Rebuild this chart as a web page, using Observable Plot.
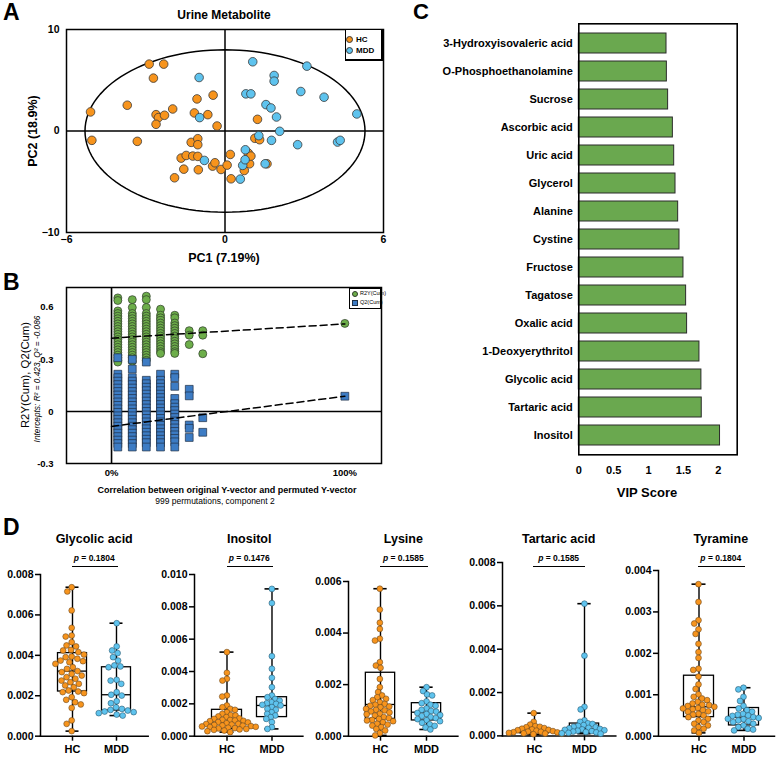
<!DOCTYPE html>
<html><head><meta charset="utf-8">
<script src="https://cdn.jsdelivr.net/npm/d3@7"></script>
<script src="https://cdn.jsdelivr.net/npm/@observablehq/plot@0.6"></script>
<style>
body{margin:0;background:#fff;}
#root{position:relative;width:780px;height:758px;font-family:"Liberation Sans",Arial,sans-serif;color:#000;overflow:hidden;background:#fff}
.lbl{position:absolute;white-space:nowrap;line-height:1}
</style></head><body><div id="root"></div>
<script>
// ---------------- DATA ----------------
// Panel A: PCA scores
const hcPC1 = [-5.09,-5.04,-3.70,-3.32,-2.87,-2.71,-2.61,-2.52,-2.61,-2.29,-2.32,-1.98,-1.91,-1.66,-1.56,-1.47,-1.28,-1.22,-1.16,-1.06,-1.03,-1.03,-1.03,-1.01,-0.65,-0.45,-0.47,-0.38,-0.30,-0.15,0.08,0.20,0.23,0.73,0.88,0.93,0.98,1.13,1.23,1.31,1.59];
const hcPC2 = [1.88,-0.92,2.54,-1.02,6.59,5.21,1.61,1.32,0.66,1.55,6.59,2.17,-4.61,-2.67,-3.76,-2.41,-1.12,-2.47,1.78,3.16,-0.76,-1.35,-2.50,-3.82,1.61,3.53,-3.46,-3.13,0.49,-3.79,-3.36,-2.31,-4.71,-3.89,-2.17,-3.23,-2.47,-0.72,1.15,-0.86,-3.23];
const mddPC1 = [-0.98,-0.96,-0.78,0.58,0.67,0.76,0.77,0.79,0.98,1.05,1.28,1.52,1.55,1.74,1.76,1.86,1.86,1.95,2.07,2.75,2.87,3.10,3.75,4.26,4.36,4.99];
const mddPC2 = [5.27,1.32,-2.90,-4.74,-3.39,-2.83,-1.85,3.66,3.66,6.82,-0.46,-3.23,2.60,2.27,-0.92,5.47,4.91,1.38,-0.03,-1.35,3.89,6.39,3.33,-1.09,-0.92,1.68];
const ellipseRadii = [5.3, 8.0]; // Hotelling T2 ellipse half-axes (PC1, PC2)

// Panel B: permutation test (x = correlation, columns of permuted models)
const permX = [0.027, 0.089, 0.149, 0.21, 0.271, 0.333, 0.391, 1.0];
const r2yCols = [
  [0.655,0.64,0.58,0.565,0.55,0.535,0.52,0.505,0.49,0.475,0.46,0.445,0.43,0.415,0.40,0.385,0.37,0.355,0.34,0.325,0.31,0.295,0.285],
  [0.645,0.60,0.565,0.55,0.535,0.52,0.505,0.49,0.475,0.46,0.445,0.43,0.415,0.40,0.385,0.37,0.355,0.34,0.325,0.31,0.29],
  [0.665,0.645,0.60,0.565,0.55,0.535,0.52,0.505,0.49,0.475,0.46,0.445,0.43,0.415,0.40,0.385,0.37,0.355,0.34,0.325,0.31,0.295],
  [0.59,0.555,0.54,0.525,0.51,0.495,0.48,0.465,0.45,0.435,0.42,0.405,0.39,0.375,0.36,0.345,0.335],
  [0.555,0.54,0.51,0.495,0.48,0.465,0.45,0.435,0.42,0.405,0.39,0.375,0.36,0.345,0.335],
  [0.466,0.44,0.386],
  [0.466,0.44,0.333],
  [0.508]
];
const q2Cols = [
  [0.31,0.215,0.195,0.175,0.155,0.135,0.115,0.095,0.075,0.055,0.035,0.015,-0.005,-0.025,-0.045,-0.065,-0.085,-0.105,-0.125,-0.145,-0.165,-0.185,-0.205],
  [0.30,0.245,0.195,0.175,0.155,0.135,0.115,0.095,0.075,0.055,0.035,0.015,-0.005,-0.025,-0.045,-0.065,-0.085,-0.105,-0.125,-0.145,-0.165,-0.185,-0.205],
  [0.285,0.18,0.16,0.14,0.12,0.10,0.08,0.06,0.04,0.02,0.0,-0.02,-0.04,-0.06,-0.08,-0.10,-0.12,-0.14,-0.16,-0.18,-0.205],
  [0.215,0.18,0.16,0.14,0.12,0.10,0.08,0.06,0.04,0.02,0.0,-0.02,-0.04,-0.06,-0.08,-0.10,-0.12,-0.14,-0.16,-0.18,-0.205],
  [0.215,0.195,0.145,0.075,0.045,0.025,0.005,-0.015,-0.035,-0.055,-0.075,-0.095,-0.115,-0.135,-0.155,-0.175,-0.205],
  [0.128,0.09,-0.078,-0.097,-0.15],
  [-0.036,-0.12],
  [0.088]
];
const r2yIntercept = 0.423, r2yOriginal = 0.505;
const q2Intercept = -0.086, q2Original = 0.088;

// Panel C: VIP scores
const vipNames = ["3-Hydroxyisovaleric acid","O-Phosphoethanolamine","Sucrose","Ascorbic acid","Uric acid","Glycerol","Alanine","Cystine","Fructose","Tagatose","Oxalic acid","1-Deoxyerythritol","Glycolic acid","Tartaric acid","Inositol"];
const vipScores = [1.257,1.262,1.28,1.348,1.367,1.386,1.424,1.443,1.50,1.538,1.552,1.729,1.757,1.762,2.024];

// Panel D: individual metabolite levels
const glycolicHC = [0.00737,0.00716,0.00622,0.00536,0.00498,0.00493,0.00465,0.00449,0.00444,0.00427,0.00424,0.00416,0.00404,0.00394,0.00391,0.00383,0.00374,0.00371,0.00366,0.00358,0.00341,0.00333,0.00322,0.00317,0.00308,0.00300,0.00292,0.00284,0.00275,0.00267,0.00259,0.00251,0.00242,0.00226,0.00221,0.00218,0.00213,0.00193,0.00180,0.00168,0.00157,0.00140,0.00078,0.00061,0.00025];
const glycolicMDD = [0.00559,0.00444,0.00424,0.00411,0.00391,0.00374,0.00350,0.00345,0.00341,0.00279,0.00275,0.00259,0.00218,0.00205,0.00201,0.00173,0.00163,0.00143,0.00135,0.00130,0.00127,0.00122,0.00119,0.00114,0.00107,0.00102];
const inositolHC = [0.00520,0.00392,0.00355,0.00344,0.00252,0.00245,0.00190,0.00179,0.00169,0.00163,0.00148,0.00138,0.00130,0.00128,0.00122,0.00118,0.00110,0.00107,0.00101,0.00100,0.00097,0.00095,0.00093,0.00087,0.00085,0.00080,0.00076,0.00075,0.00072,0.00070,0.00066,0.00065,0.00062,0.00060,0.00058,0.00056,0.00052,0.00050,0.00048,0.00045,0.00042,0.00039,0.00035,0.00031,0.00025];
const inositolMDD = [0.00911,0.00823,0.00495,0.00417,0.00361,0.00303,0.00252,0.00241,0.00230,0.00220,0.00210,0.00204,0.00200,0.00194,0.00190,0.00180,0.00169,0.00163,0.00148,0.00138,0.00128,0.00118,0.00107,0.00087,0.00056,0.00045];
const lysineHC = [0.00572,0.00491,0.00440,0.00416,0.00378,0.00371,0.00287,0.00274,0.00265,0.00222,0.00190,0.00171,0.00158,0.00151,0.00145,0.00140,0.00132,0.00125,0.00122,0.00118,0.00115,0.00112,0.00106,0.00102,0.00100,0.00096,0.00092,0.00087,0.00085,0.00080,0.00074,0.00070,0.00067,0.00063,0.00061,0.00058,0.00054,0.00048,0.00045,0.00041,0.00035,0.00028,0.00022,0.00012,0.00003];
const lysineMDD = [0.00190,0.00175,0.00162,0.00158,0.00135,0.00128,0.00122,0.00118,0.00108,0.00102,0.00098,0.00095,0.00090,0.00086,0.00082,0.00078,0.00074,0.00070,0.00066,0.00062,0.00058,0.00052,0.00046,0.00040,0.00034,0.00026];
const tartaricHC = [0.00105,0.00065,0.00052,0.00045,0.00042,0.00040,0.00036,0.00033,0.00030,0.00028,0.00026,0.00024,0.00022,0.00020,0.00019,0.00017,0.00016,0.00014,0.00012,0.00011,0.00010,0.00008];
const tartaricMDD = [0.00610,0.00370,0.00134,0.00122,0.00072,0.00065,0.00058,0.00055,0.00050,0.00046,0.00042,0.00040,0.00037,0.00035,0.00032,0.00030,0.00028,0.00026,0.00024,0.00022,0.00020,0.00018,0.00016,0.00014,0.00012,0.00010];
const tyramineHC = [0.00367,0.00324,0.00280,0.00272,0.00258,0.00247,0.00223,0.00203,0.00189,0.00163,0.00160,0.00144,0.00125,0.00114,0.00101,0.00095,0.00091,0.00087,0.00083,0.00079,0.00076,0.00075,0.00073,0.00071,0.00068,0.00067,0.00065,0.00063,0.00060,0.00059,0.00054,0.00052,0.00050,0.00046,0.00042,0.00038,0.00034,0.00030,0.00026,0.00022,0.00018,0.00014,0.00008];
const tyramineMDD = [0.00117,0.00113,0.00095,0.00085,0.00073,0.00067,0.00063,0.00059,0.00054,0.00052,0.00050,0.00049,0.00046,0.00044,0.00042,0.00041,0.00038,0.00036,0.00034,0.00030,0.00026,0.00022,0.00018,0.00016,0.00014];
// box summaries [min, Q1, median, Q3, max]
const glycolicBoxHC = [0.00025,0.00221,0.00322,0.00411,0.00737];
const glycolicBoxMDD = [0.00102,0.00127,0.00205,0.00341,0.00559];
const inositolBoxHC = [0.00025,0.00045,0.00085,0.00163,0.00520];
const inositolBoxMDD = [0.00045,0.00118,0.00190,0.00241,0.00911];
const lysineBoxHC = [0.00003,0.00067,0.00123,0.00246,0.00572];
const lysineBoxMDD = [0.00026,0.00061,0.00093,0.00128,0.00190];
const tartaricBoxHC = [0.00006,0.00012,0.00020,0.00035,0.00105];
const tartaricBoxMDD = [0.00010,0.00014,0.00034,0.00057,0.00610];
const tyramineBoxHC = [0.00008,0.00046,0.00071,0.00146,0.00367];
const tyramineBoxMDD = [0.00014,0.00026,0.00046,0.00068,0.00117];
const dMetabolites = ["Glycolic acid","Inositol","Lysine","Tartaric acid","Tyramine"];
const dPValues = ["0.1804","0.1476","0.1585","0.1585","0.1804"];
const dYMax = [0.008,0.010,0.006,0.008,0.004];
const dYStep = [0.002,0.002,0.002,0.002,0.001];
const groups = ["HC","MDD"];

// ---------------- STYLE / LAYOUT ----------------
const FONT = "'Liberation Sans', Arial, sans-serif";
const ORANGE = "#F7941D", SKY = "#5EC3EE", DOTGREEN = "#6DAE4A", SQBLUE = "#3D7CC4", BARGREEN = "#6AA84F";
const root = document.getElementById("root");
function place(svg, left, top) { svg.style.position = "absolute"; svg.style.left = left + "px"; svg.style.top = top + "px"; root.appendChild(svg); }
function label(str, x, y, o = {}) {
  const d = document.createElement("div");
  d.className = "lbl";
  if (o.html) d.innerHTML = str; else d.textContent = str;
  d.style.fontSize = (o.size || 12) + "px";
  d.style.fontWeight = o.weight || "bold";
  d.style.fontStyle = o.style || "normal";
  d.style.left = x + "px"; d.style.top = y + "px";
  const tx = o.anchor === "start" ? "0" : o.anchor === "end" ? "-100%" : "-50%";
  d.style.transform = `translate(${tx},-50%)` + (o.rotate ? ` rotate(${o.rotate}deg)` : "");
  root.appendChild(d);
  return d;
}
function box(left, top, w, h, css = "") {
  const d = document.createElement("div");
  d.style.cssText = `position:absolute;left:${left}px;top:${top}px;width:${w}px;height:${h}px;${css}`;
  root.appendChild(d); return d;
}

// ---------------- PANEL A ----------------
const scoreRows = [
  ...hcPC1.map((v, i) => ({group: "HC", pc1: v, pc2: hcPC2[i]})),
  ...mddPC1.map((v, i) => ({group: "MDD", pc1: v, pc2: mddPC2[i]}))
];
const ellipse = d3.range(0, 361, 3).map(a => ({pc1: ellipseRadii[0] * Math.cos(a * Math.PI / 180), pc2: ellipseRadii[1] * Math.sin(a * Math.PI / 180)}));
const plotA = Plot.plot({
  width: 400, height: 270, marginLeft: 66, marginRight: 17, marginTop: 29, marginBottom: 38,
  style: {fontFamily: FONT, fontSize: "10.5px", fontWeight: "bold", background: "transparent", overflow: "visible"},
  x: {domain: [-6, 6], ticks: [-6, 0, 6], tickSize: 0, tickPadding: 3, label: null},
  y: {domain: [-10, 10], ticks: [-10, 0, 10], tickSize: 0, tickPadding: 7, label: null},
  color: {domain: groups, range: [ORANGE, SKY]},
  marks: [
    Plot.ruleX([0], {stroke: "#000", strokeWidth: 1.5}),
    Plot.ruleY([0], {stroke: "#000", strokeWidth: 1.5}),
    Plot.line(ellipse, {x: "pc1", y: "pc2", stroke: "#000", strokeWidth: 1.5}),
    Plot.dot(scoreRows, {x: "pc1", y: "pc2", fill: "group", r: 4.3, stroke: "#3a3a3a", strokeWidth: 0.8}),
    Plot.frame({stroke: "#000", strokeWidth: 1.5})
  ]
});
place(plotA, 0, 0);
label("A", 3, 12, {size: 23, anchor: "start"});
label("Urine Metabolite", 224, 15, {size: 12});
label("PC1 (7.19%)", 224, 258, {size: 12.5});
label("PC2 (18.9%)", 33, 131, {size: 12.5, rotate: -90});
box(345, 29, 38, 32, "border:1px solid #000;border-right-width:2px;border-bottom-width:2px;box-sizing:border-box;background:#fff");
box(346, 36, 7, 7, `border-radius:50%;background:${ORANGE};border:0.8px solid #3a3a3a;box-sizing:border-box`);
box(346, 47, 7, 7, `border-radius:50%;background:${SKY};border:0.8px solid #3a3a3a;box-sizing:border-box`);
label("HC", 356, 39.5, {size: 8, anchor: "start"});
label("MDD", 356, 50.5, {size: 8, anchor: "start"});

// ---------------- PANEL B ----------------
const r2yRows = permX.flatMap((x, i) => r2yCols[i].map(v => ({corr: x, value: v})));
const q2Rows = permX.flatMap((x, i) => q2Cols[i].map(v => ({corr: x, value: v})));
const r2yFit = [{corr: 0, value: r2yIntercept}, {corr: 1, value: r2yOriginal}];
const q2Fit = [{corr: 0, value: q2Intercept}, {corr: 1, value: q2Original}];
const plotB = Plot.plot({
  width: 400, height: 240, marginLeft: 66, marginRight: 19, marginTop: 17, marginBottom: 47,
  style: {fontFamily: FONT, fontSize: "9.5px", fontWeight: "bold", background: "transparent", overflow: "visible"},
  x: {domain: [-0.193, 1.157], ticks: [0, 1], tickFormat: d => Math.round(d * 100) + "%", tickSize: 0, tickPadding: 6, label: null},
  y: {domain: [-0.3, 0.715], ticks: [-0.3, 0, 0.3, 0.6], tickFormat: d => d === 0 ? "0" : String(d), tickSize: 0, tickPadding: 13, label: null},
  marks: [
    Plot.ruleX([0], {stroke: "#000", strokeWidth: 1.6}),
    Plot.ruleY([0], {stroke: "#000", strokeWidth: 1.6}),
    Plot.dot(r2yRows, {x: "corr", y: "value", r: 4, fill: DOTGREEN, stroke: "#2e3b2a", strokeWidth: 0.7}),
    Plot.dot(q2Rows, {x: "corr", y: "value", r: 4.4, symbol: "square", fill: SQBLUE, stroke: "#1f2f45", strokeWidth: 0.7}),
    Plot.line(r2yFit, {x: "corr", y: "value", stroke: "#000", strokeWidth: 1.5, strokeDasharray: "7,4"}),
    Plot.line(q2Fit, {x: "corr", y: "value", stroke: "#000", strokeWidth: 1.5, strokeDasharray: "7,4"}),
    Plot.frame({stroke: "#000", strokeWidth: 1.5})
  ]
});
place(plotB, 0, 270);
label("B", 3, 282, {size: 23, anchor: "start"});
label("R2Y(Cum), Q2(Cum)", 26, 375, {size: 11.3, weight: "normal", rotate: -90});
label("<i>Intercepts: R² = 0.423, Q² = -0.086</i>", 37, 378.5, {size: 8.3, weight: "normal", rotate: -90, html: true});
label("Correlation between original Y-vector and permuted Y-vector", 227, 490, {size: 9});
label("999 permutations, component 2", 215, 500.5, {size: 8.5, weight: "normal"});
box(349, 288, 32, 21, "border:1px solid #000;box-sizing:border-box;background:#fff");
box(352, 290.5, 6, 6, `border-radius:50%;background:${DOTGREEN};border:0.6px solid #2e3b2a;box-sizing:border-box`);
box(352, 300, 6, 6, `background:${SQBLUE};border:0.6px solid #1f2f45;box-sizing:border-box`);
label("R2Y(Cum)", 360, 294, {size: 5.5, weight: "normal", anchor: "start"});
label("Q2(Cum)", 360, 303, {size: 5.5, weight: "normal", anchor: "start"});

// ---------------- PANEL C ----------------
const vipRows = vipNames.map((n, i) => ({name: n, vip: vipScores[i]}));
const plotC = Plot.plot({
  width: 380, height: 510, marginLeft: 178.3, marginRight: 43.3, marginTop: 23.3, marginBottom: 55.7,
  style: {fontFamily: FONT, fontSize: "11px", fontWeight: "bold", background: "transparent", overflow: "visible"},
  x: {domain: [0, 2.27], ticks: [0, 0.5, 1, 1.5, 2], tickFormat: d => String(d), tickSize: 0, tickPadding: 11, label: null},
  y: {domain: vipNames, paddingInner: 0.3, paddingOuter: 0.15, tickSize: 0, tickPadding: 6, label: null},
  marks: [
    Plot.barX(vipRows, {x: "vip", y: "name", fill: BARGREEN, stroke: "#2b2b2b", strokeWidth: 1}),
    Plot.frame({stroke: "#000", strokeWidth: 1.6})
  ]
});
place(plotC, 400, 0);
label("C", 413, 12, {size: 22, anchor: "start"});
label("VIP Score", 647, 492, {size: 13});

// ---------------- PANEL D ----------------
const dHC = [glycolicHC, inositolHC, lysineHC, tartaricHC, tyramineHC];
const dMDD = [glycolicMDD, inositolMDD, lysineMDD, tartaricMDD, tyramineMDD];
const dBoxHC = [glycolicBoxHC, inositolBoxHC, lysineBoxHC, tartaricBoxHC, tyramineBoxHC];
const dBoxMDD = [glycolicBoxMDD, inositolBoxMDD, lysineBoxMDD, tartaricBoxMDD, tyramineBoxMDD];
const dLayout = [
  {axisX: 40, hc: 71.7, mdd: 116.7, top: 574, swarmPad: 0.3},
  {axisX: 194.3, hc: 226.7, mdd: 271.7, top: 574, swarmPad: -1.0},
  {axisX: 348.3, hc: 380, mdd: 426.7, top: 581, swarmPad: -0.6},
  {axisX: 501.7, hc: 533.3, mdd: 584, top: 562.3, swarmPad: -1.2},
  {axisX: 658.3, hc: 698.3, mdd: 743.3, top: 570, swarmPad: -0.4}
];
const D_BOTTOM = 735.7;
label("D", 3, 527, {size: 23, anchor: "start"});
dMetabolites.forEach((name, i) => {
  const L = dLayout[i];
  const spacing = L.mdd - L.hc;
  const frameL = L.axisX, frameR = L.mdd + 31;
  const MT = 8, MB = 26;
  const W = frameR - frameL;
  const H = MT + (D_BOTTOM - L.top) + MB;
  const insetLeft = (L.hc - spacing / 2) - frameL;
  const insetRight = frameR - (L.mdd + spacing / 2);
  const mid = (frameL + frameR) / 2;
  const bandHalf = spacing / 2; // Plot shifts dodged positions by half the band width of the x scale
  const toBox = (g, s) => ({group: g, min: s[0], q1: s[1], median: s[2], q3: s[3], max: s[4]});
  const boxRows = [toBox("HC", dBoxHC[i]), toBox("MDD", dBoxMDD[i])];
  const hcRows = dHC[i].map(v => ({value: v}));
  const mddRows = dMDD[i].map(v => ({value: v}));
  const boxInset = spacing / 2 - 15;
  const capInset = spacing / 2 - 7;
  const ticks = d3.range(0, dYMax[i] + dYStep[i] / 2, dYStep[i]);
  const svg = Plot.plot({
    width: W, height: H, marginLeft: 0, marginRight: 0, marginTop: MT, marginBottom: MB,
    style: {fontFamily: FONT, fontSize: "10.5px", fontWeight: "bold", background: "transparent", overflow: "visible"},
    x: {domain: groups, padding: 0, insetLeft, insetRight},
    y: {domain: [0, dYMax[i]]},
    marks: [
      Plot.axisY({ticks, tickFormat: d3.format(".3f"), tickSize: 5, tickPadding: 2, strokeWidth: 1.5, label: null}),
      Plot.axisX({tickSize: 5, tickPadding: 4, strokeWidth: 1.5, label: null, fontSize: 11}),
      Plot.frame({anchor: "left", stroke: "#000", strokeWidth: 1.5}),
      Plot.frame({anchor: "bottom", stroke: "#000", strokeWidth: 1.5}),
      Plot.ruleX(boxRows, {x: "group", y1: "min", y2: "max", stroke: "#000", strokeWidth: 1.4}),
      Plot.tickY(boxRows, {x: "group", y: "min", insetLeft: capInset, insetRight: capInset, stroke: "#000", strokeWidth: 1.6}),
      Plot.tickY(boxRows, {x: "group", y: "max", insetLeft: capInset, insetRight: capInset, stroke: "#000", strokeWidth: 1.6}),
      Plot.barY(boxRows, {x: "group", y1: "q1", y2: "q3", fill: "none", stroke: "#000", strokeWidth: 1.3, insetLeft: boxInset, insetRight: boxInset}),
      Plot.tickY(boxRows, {x: "group", y: "median", insetLeft: boxInset, insetRight: boxInset, stroke: "#000", strokeWidth: 1.3}),
      Plot.dot(hcRows, Plot.dodgeX({anchor: "middle", padding: L.swarmPad}, {y: "value", r: 2.9, fill: ORANGE, stroke: "#6b4a22", strokeWidth: 0.6, dx: L.hc - mid - bandHalf})),
      Plot.dot(mddRows, Plot.dodgeX({anchor: "middle", padding: L.swarmPad}, {y: "value", r: 2.9, fill: SKY, stroke: "#2d5a70", strokeWidth: 0.6, dx: L.mdd - mid - bandHalf}))
    ]
  });
  place(svg, frameL, L.top - MT);
  const cx = (L.hc + L.mdd) / 2;
  label(name, cx, 539, {size: 12.5});
  label(`<i>p</i> = ${dPValues[i]}`, cx, 558, {size: 8.5, html: true});
  box(L.hc, 566, L.mdd - L.hc + 1.5, 0, "border-top:1.3px solid #000");
});
</script></body></html>
